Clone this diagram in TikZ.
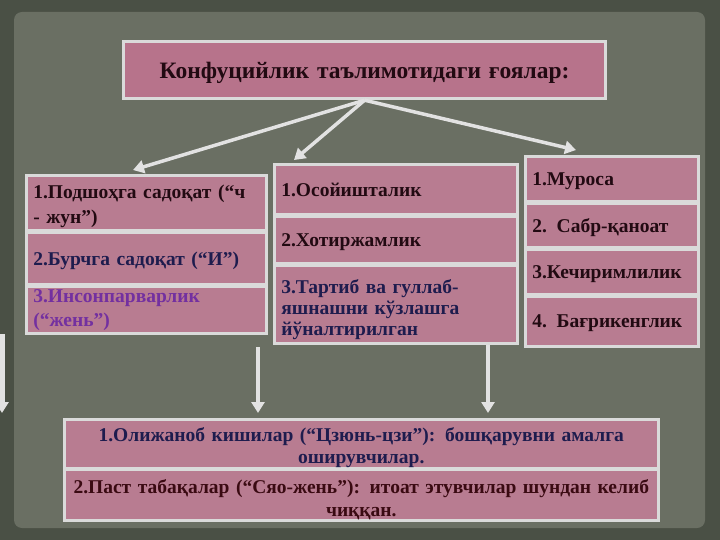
\documentclass[tikz,border=0pt]{standalone}
\usepackage{fontspec}
\setmainfont{Liberation Serif}
\usetikzlibrary{arrows.meta}
\definecolor{bgout}{HTML}{4A5045}
\definecolor{bgin}{HTML}{6A6F63}
\definecolor{boxfill}{HTML}{B87C91}
\definecolor{titlefill}{HTML}{B7738B}
\definecolor{boxline}{HTML}{DADADA}
\definecolor{arrowc}{HTML}{E2E2E2}
\definecolor{txtdark}{HTML}{220A12}
\definecolor{txtnavy}{HTML}{1E1C4E}
\definecolor{txtpurple}{HTML}{7330A0}
\definecolor{txtmaroon}{HTML}{3A0A12}
\tikzset{
  cell/.style={draw=boxline, line width=2.6pt, fill=boxfill, anchor=north west,
    inner xsep=7pt, inner ysep=0pt, align=left, text=txtdark,
    font=\bfseries\fontsize{19.5}{25}\selectfont},
  oneline/.style={text depth=0pt},
  wide/.style={cell, minimum width=594pt, text width=590pt, inner xsep=2pt, align=center,
    font=\bfseries\fontsize{19.5}{22.5}\selectfont},
  conn/.style={draw=arrowc, line width=3.5pt, -{Triangle[width=13pt,length=11pt]}},
}
\begin{document}
\begin{tikzpicture}[x=1pt,y=-1pt]
\useasboundingbox (0,0) rectangle (720,540);
\fill[bgout] (0,0) rectangle (720,540);
\fill[bgin, rounded corners=8pt] (14,12) rectangle (705,528);

% title
\node[cell, oneline, fill=titlefill, line width=3.2pt, minimum width=482pt, minimum height=57pt,
  text width=468pt, align=center, font=\bfseries\fontsize{23.5}{26}\selectfont] (title) at (122,40)
  {Конфуцийлик таълимотидаги ғоялар:};

% left column
\node[cell, minimum width=240pt, minimum height=55pt, text width=226pt] (L1) at (25,174)
  {\rule{0pt}{21pt}1.Подшоҳга садоқат (“ч\\- жун”)};
\node[cell, oneline, minimum width=240pt, minimum height=52pt, text width=226pt, text=txtnavy] (L2) at (25,231)
  {2.Бурчга садоқат (“И”)};
\node[cell, minimum width=240pt, minimum height=47pt, text width=226pt, text=txtpurple,
  font=\bfseries\fontsize{19.5}{24}\selectfont] (L3) at (25,285)
  {3.Инсонпарварлик\\(“жень”)};

% middle column
\node[cell, oneline, minimum width=243pt, minimum height=50pt, text width=229pt] (M1) at (273,163)
  {1.Осойишталик};
\node[cell, oneline, minimum width=243pt, minimum height=47pt, text width=229pt] (M2) at (273,215)
  {2.Хотиржамлик};
\node[cell, minimum width=243pt, minimum height=78pt, text width=229pt, text=txtnavy,
  font=\bfseries\fontsize{19.5}{21}\selectfont] (M3) at (273,264)
  {\rule{0pt}{25pt}3.Тартиб ва гуллаб-\\яшнашни кўзлашга\\йўналтирилган};

% right column
\node[cell, oneline, minimum width=173pt, minimum height=45pt, text width=159pt] (R1) at (524,155)
  {1.Муроса};
\node[cell, oneline, minimum width=173pt, minimum height=44pt, text width=159pt] (R2) at (524,202)
  {2. Сабр-қаноат};
\node[cell, oneline, minimum width=173pt, minimum height=45pt, text width=159pt] (R3) at (524,248)
  {3.Кечиримлилик};
\node[cell, oneline, minimum width=173pt, minimum height=50pt, text width=159pt] (R4) at (524,295)
  {4. Бағрикенглик};

% bottom
\node[wide, minimum height=48pt, text=txtnavy] (B1) at (63,418)
  {\rule{0pt}{22pt}1.Олижаноб кишилар (“Цзюнь-цзи”): бошқарувни амалга\\оширувчилар.};
\node[wide, minimum height=51pt, text=txtmaroon] (B2) at (63,468)
  {\rule{0pt}{24pt}2.Паст табақалар (“Сяо-жень”): итоат этувчилар шундан келиб\\чиққан.};

% connectors from title
\draw[conn] (title.south) -- ([xshift=108pt,yshift=4pt]L1.north west);
\draw[conn] (title.south) -- ([xshift=21pt,yshift=3pt]M1.north west);
\draw[conn] (title.south) -- ([xshift=52pt,yshift=5pt]R1.north west);

% vertical arrows
\coordinate (v1s) at (258,347);
\coordinate (v2s) at (488,345);
\coordinate (v0s) at (2,334);
\coordinate (v0e) at (2,413);
\draw[conn, shorten >=5pt] (v1s) -- (v1s |- B1.north);
\draw[conn, shorten >=5pt] (v2s) -- (v2s |- B1.north);
\draw[conn, line width=5pt] (v0s) -- (v0e);
\end{tikzpicture}
\end{document}
